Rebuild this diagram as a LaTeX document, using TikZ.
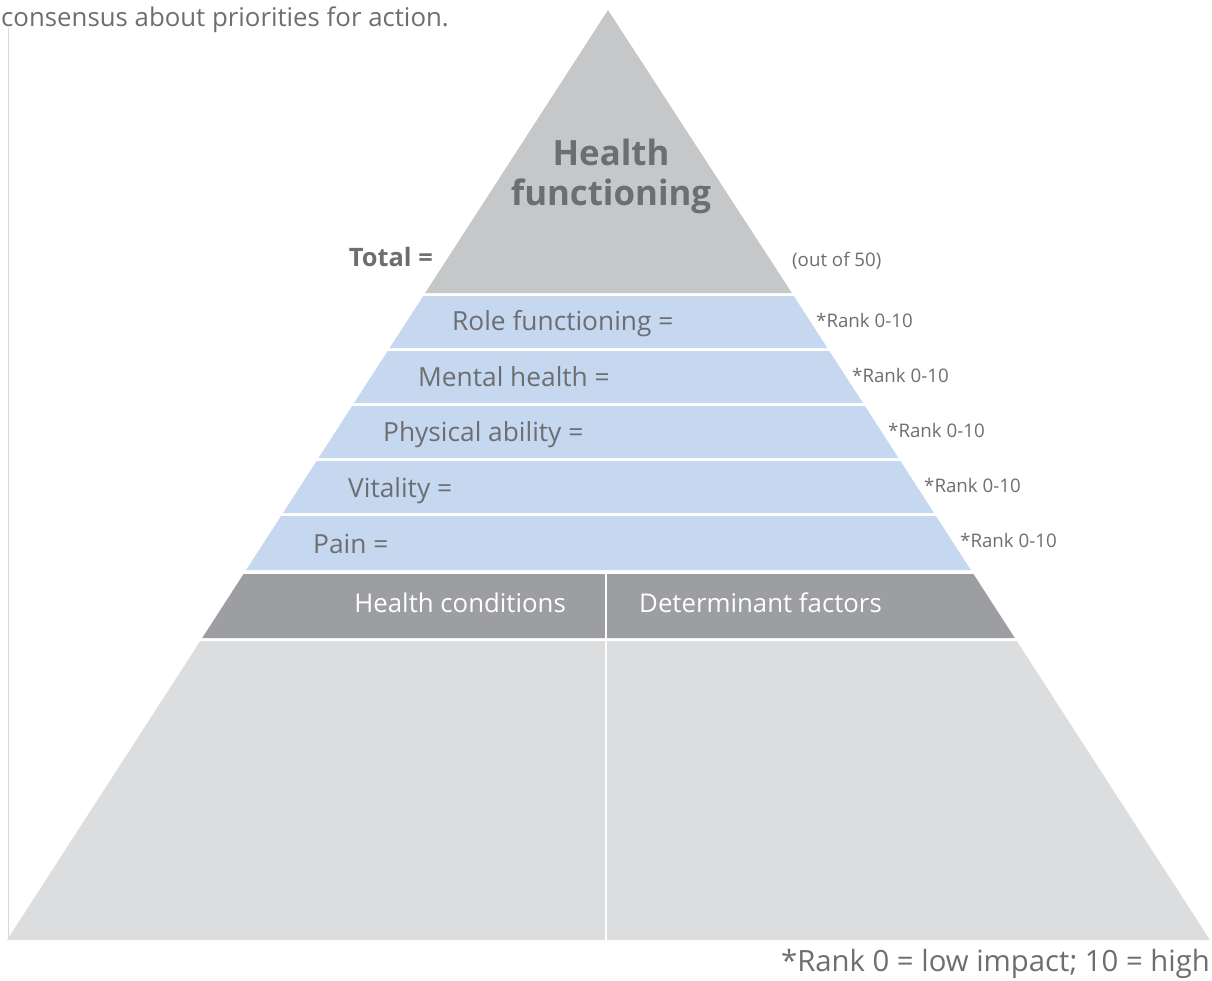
\documentclass[tikz,border=0pt]{standalone}
\usepackage{fontspec}
\setmainfont{Open Sans}
\usetikzlibrary{positioning}

\definecolor{txtgray}{HTML}{6D6E71}
\definecolor{topgray}{HTML}{C6C7C9}
\definecolor{bandblue}{HTML}{C5D8EF}
\definecolor{darkgray}{HTML}{9D9EA1}
\definecolor{basegray}{HTML}{DCDDDF}
\definecolor{edgegray}{HTML}{D6D8DC}

\tikzset{
  txt/.style={text=txtgray, inner sep=0pt, text height=0.72em, text depth=0pt},
  bandlbl/.style={txt, anchor=west, font=\fontsize{26.3}{30}\selectfont},
  ranklbl/.style={txt, anchor=west, font=\fontsize{18.7}{22}\selectfont},
  footlbl/.style={txt, text=white, font=\fontsize{25.8}{30}\selectfont}
}
% edges of the pyramid at height y
\newcommand{\lx}[1]{608-0.6462*(#1-10)}
\newcommand{\rx}[1]{609+0.6462*(#1-10)}

\begin{document}
\begin{tikzpicture}[x=1pt,y=-1pt]
  \useasboundingbox (0,0) rectangle (1212,980);
  \draw[edgegray, line width=0.8pt] (8,28) -- (8,940);

  % top
  \coordinate (apex) at (608,10);
  \fill[topgray] (apex) -- ({\lx{293}},293) -- ({\rx{293}},293) -- cycle;

  % ranked bands
  \foreach \t [count=\i] in {296,351,406,461,516}{
    \pgfmathsetmacro{\b}{\t+52+(\i==5)*2}
    \fill[bandblue] ({\lx{\t}},\t) -- ({\rx{\t}},\t) -- ({\rx{\b}},\b) -- ({\lx{\b}},\b) -- cycle;
  }

  % lower part
  \fill[darkgray] ({\lx{574}},574) -- ({\rx{574}},574) -- ({\rx{638}},638) -- ({\lx{638}},638) -- cycle;
  \fill[basegray] ({\lx{641}},641) -- ({\rx{641}},641) -- ({\rx{940}},940) -- ({\lx{940}},940) -- cycle;
  \draw[white, line width=2.5pt] (606,574) -- (606,940);

  % texts
  \node[txt, anchor=west, font=\fontsize{25.8}{30}\selectfont] (intro) at (1,23) {consensus about priorities for action.};
  \node[txt, align=center, font=\bfseries\fontsize{34.8}{40}\selectfont] (title) at (611,202) {Health\\functioning};
  \node[txt, anchor=east, font=\bfseries\fontsize{25.4}{30}\selectfont] (total) at (433,263) {Total =};
  \node[ranklbl] (outof) at (792,263) {(out of 50)};

  \node[bandlbl] (role) at (452,327) {Role functioning =};
  \node[bandlbl] (mental) at (418,383) {Mental health =};
  \node[bandlbl] (phys) at (383,438) {Physical ability =};
  \node[bandlbl] (vital) at (348,494) {Vitality =};
  \node[bandlbl] (pain) at (313,550) {Pain =};

  \foreach \x/\y [count=\i] in {816/324,852/379,888/434,924/489,960/544}
    \node[ranklbl] (rank\i) at (\x,\y) {*Rank 0-10};

  \node[footlbl, anchor=east] (cond) at (566,609) {Health conditions};
  \node[footlbl, anchor=west] (determ) at (639,609) {Determinant factors};

  \node[txt, anchor=east, font=\fontsize{29.3}{34}\selectfont] (note) at (1210,968) {*Rank 0 = low impact; 10 = high};
\end{tikzpicture}
\end{document}
